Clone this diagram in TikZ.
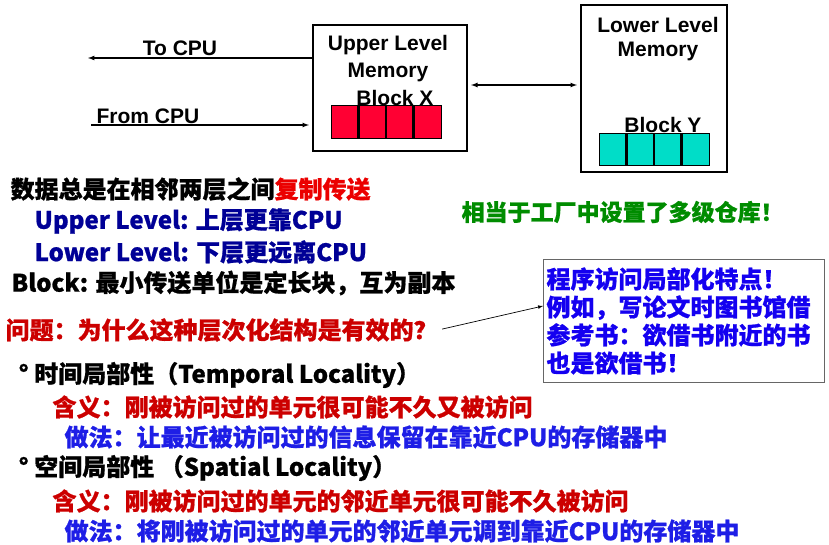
\documentclass[tikz,border=0pt]{standalone}
\usepackage{fontspec}
\setmainfont{Liberation Sans}
\newfontfamily\cjk{Noto Sans CJK SC}[BoldFeatures={FakeBold=0.8}]
\usetikzlibrary{positioning}
\definecolor{lvlblue}{RGB}{0,0,150}
\definecolor{copyred}{RGB}{235,0,0}
\definecolor{askred}{RGB}{204,0,0}
\definecolor{facgreen}{RGB}{0,140,0}
\definecolor{boxblue}{RGB}{20,0,240}
\definecolor{dooblue}{RGB}{30,30,230}
\definecolor{blockred}{RGB}{255,0,51}
\definecolor{blockteal}{RGB}{0,221,200}
\newcommand\zhfont{\cjk\bfseries\fontsize{24}{28}\selectfont}
\newcommand\enfont{\bfseries\fontsize{21}{24}\selectfont}

\begin{document}
\begin{tikzpicture}[x=1pt,y=-1pt,line width=1.2pt,
  membox/.style={draw,line width=2.2pt,inner sep=0pt},
  redcell/.style={draw,line width=0.6pt,fill=blockred,minimum width=27.5pt,minimum height=33pt,inner sep=0pt,outer sep=0pt},
  tealcell/.style={draw,line width=0.6pt,fill=blockteal,minimum width=27.5pt,minimum height=32pt,inner sep=0pt,outer sep=0pt},
  divider/.style={line width=2.5pt},
  label/.style={font=\enfont,inner sep=0pt},
  zh/.style={font=\zhfont,inner sep=0pt,anchor=west}]
        \useasboundingbox (0,0) rectangle (829,545);
        % memory boxes
        \node[membox,minimum width=154pt,minimum height=126pt] (upper) at (390,88) {};
        \node[membox,minimum width=146pt,minimum height=167pt] (lower) at (654,88.5) {};
        \node[label] (uplbl) at (388,45) {Upper Level};
        \node[label] (upmem) at (388,72) {Memory};
        \node[label] (blockx) at (395,98) {Block X};
        \node[label] (lolbl) at (658,25) {Lower Level};
        \node[label] (lomem) at (658,51) {Memory};
        \node[label] (blocky) at (663,125) {Block Y};
        % blocks
        \node[redcell] (x0) at (344.75,121.5) {};
        \node[redcell,right=0pt of x0] (x1) {};
        \node[redcell,right=0pt of x1] (x2) {};
        \node[redcell,right=0pt of x2] (x3) {};
        \node[tealcell] (y0) at (612.75,149) {};
        \node[tealcell,right=0pt of y0] (y1) {};
        \node[tealcell,right=0pt of y1] (y2) {};
        \node[tealcell,right=0pt of y2] (y3) {};
        \draw[divider] (x1.north west) -- (x1.south west);
        \draw[divider] (x2.north west) -- (x2.south west);
        \draw[divider] (x3.north west) -- (x3.south west);
        \draw[divider] (y1.north west) -- (y1.south west);
        \draw[divider] (y2.north west) -- (y2.south west);
        \draw[divider] (y3.north west) -- (y3.south west);
        % cpu lines
        \coordinate (tocpu) at (88,58);
        \coordinate (fromcpu) at (91,125);
        \coordinate (link) at (524,85);
        \node[label] (tolbl) at (180,48) {To CPU};
        \node[label] (fromlbl) at (148,116) {From CPU};
        \draw[-latex] (upper.west |- tocpu) -- (tocpu);
        \draw[-latex,shorten >=3pt] (fromcpu) -- (upper.west |- fromcpu);
        \draw[latex-latex,shorten <=3pt,shorten >=3pt] (upper.east |- link) -- (lower.west |- link);
        % text
        \node[zh] (copyline) at (10,189) {数据总是在相邻两层之间\textcolor{copyred}{复制传送}};
        \node[zh,text=lvlblue] (upline) at (34,221) {Upper Level: 上层更靠CPU};
        \node[zh,text=lvlblue] (lowline) at (34,252) {Lower Level: 下层更远离CPU};
        \node[zh] (blkline) at (11,283) {Block: 最小传送单位是定长块，互为副本};
        \node[zh,text=facgreen,font=\cjk\bfseries\fontsize{23}{28}\selectfont] (factory) at (461,212) {相当于工厂中设置了多级仓库！};
        \node[zh,text=askred] (question) at (5,330) {问题：为什么这种层次化结构是有效的？};
        \node[draw=black!60,line width=1pt,anchor=north west,minimum width=281pt,minimum height=123pt,
              text width=275pt,inner xsep=3pt,align=left,font=\zhfont,text=boxblue] (localbox) at (543,259)
              {程序访问局部化特点！\\例如，写论文时图书馆借\\参考书：欲借书附近的书\\也是欲借书！};
        \draw[-latex,line width=0.7pt,shorten <=4pt] (question.east) -- (localbox.west |- 0,306);
        \node[zh] (temporal) at (18,375) {° 时间局部性（Temporal Locality）};
        \node[zh,text=askred] (tmean) at (52,407) {含义：刚被访问过的单元很可能不久又被访问};
        \node[zh,text=dooblue] (tdo) at (64,437) {做法：让最近被访问过的信息保留在靠近CPU的存储器中};
        \node[zh] (spatial) at (18,468) {° 空间局部性 （Spatial Locality）};
        \node[zh,text=askred] (smean) at (52,501) {含义：刚被访问过的单元的邻近单元很可能不久被访问};
        \node[zh,text=dooblue] (sdo) at (64,531) {做法：将刚被访问过的单元的邻近单元调到靠近CPU的存储器中};
      \end{tikzpicture}
\end{document}
